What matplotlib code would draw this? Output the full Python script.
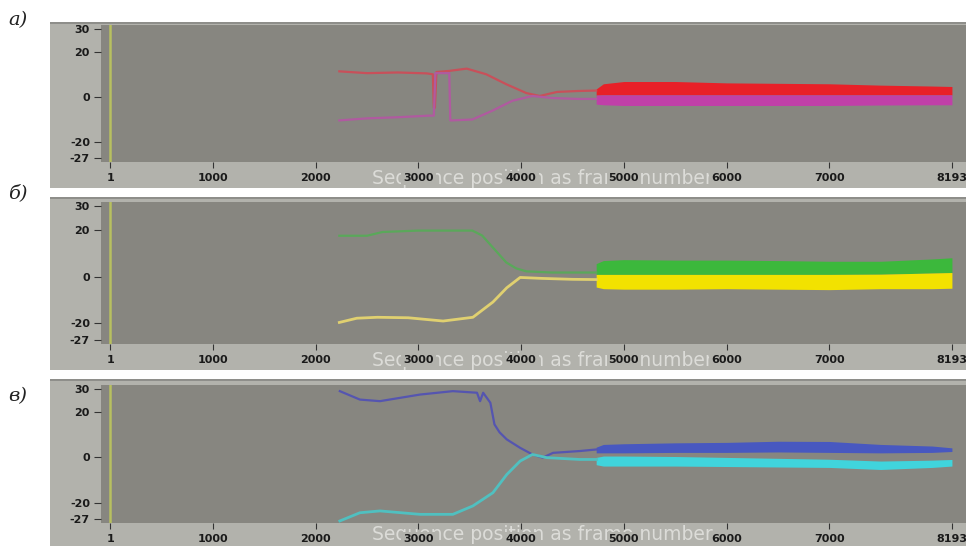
import matplotlib.pyplot as plt
from matplotlib.patches import Rectangle

W, H = 966, 546

# x positions of tick labels
x_ticks = [1, 1000, 2000, 3000, 4000, 5000, 6000, 7000, 8193]
x_ticklabels = ['1', '1000', '2000', '3000', '4000', '5000', '6000', '7000', '8193']
y_ticks = [30, 20, 0, -20, -27]

# panel a (red / magenta) - thin traces before the noisy region
a_red_x = [2230, 2500, 2800, 3080, 3140, 3150, 3160, 3175, 3300, 3470, 3660, 3855, 4050, 4180, 4350, 4550, 4730]
a_red_y = [11.3, 10.5, 10.8, 10.4, 10.0, -4.8, -4.8, 11.0, 11.5, 12.5, 10.0, 5.6, 1.7, 0.4, 2.2, 2.6, 2.8]
a_mag_x = [2230, 2500, 2800, 3100, 3150, 3165, 3300, 3310, 3330, 3525, 3720, 3915, 4110, 4300, 4550, 4730]
a_mag_y = [-10.4, -9.5, -9.0, -8.3, -8.3, 10.5, 10.5, -10.4, -10.4, -10.0, -6.1, -1.7, 0.4, -0.5, -0.9, -0.9]

# panel b (green / yellow)
b_grn_x = [2230, 2500, 2650, 3000, 3300, 3525, 3620, 3720, 3855, 3950, 4050, 4300, 4730]
b_grn_y = [17.4, 17.4, 19.0, 19.6, 19.6, 19.6, 17.5, 12.6, 6.0, 3.5, 2.2, 1.7, 1.7]
b_yel_x = [2230, 2400, 2600, 2900, 3240, 3530, 3725, 3860, 3990, 4200, 4500, 4730]
b_yel_y = [-19.6, -17.8, -17.4, -17.6, -19.0, -17.4, -10.9, -4.8, -0.4, -0.8, -1.2, -1.3]

# panel c (blue / cyan)
c_blu_x = [2235, 2430, 2625, 3015, 3335, 3570, 3600, 3630, 3700, 3740, 3790, 3860, 3990, 4110, 4210, 4310, 4570, 4735]
c_blu_y = [29.1, 25.4, 24.7, 27.6, 29.1, 28.4, 24.7, 28.4, 24.0, 14.5, 11.0, 7.9, 4.2, 1.3, -0.1, 2.0, 2.8, 3.5]
c_cyn_x = [2235, 2430, 2625, 3015, 3335, 3530, 3725, 3860, 3990, 4110, 4250, 4570, 4735]
c_cyn_y = [-27.9, -24.3, -23.5, -25.0, -25.0, -21.3, -15.5, -7.5, -1.6, 1.3, -0.1, -0.9, -0.9]

# noisy region envelopes (upper / lower edges of the bands)
band_x = [4730, 4800, 5000, 5500, 6000, 6500, 7000, 7500, 8000, 8193]
a_red_top = [3.5, 5.8, 6.8, 6.8, 6.2, 6.0, 5.8, 5.2, 4.8, 4.6]
a_mid = [0.8, 0.9, 0.9, 0.9, 0.9, 0.9, 0.9, 0.9, 0.9, 0.9]
a_mag_bot = [-3.2, -3.5, -3.8, -3.8, -3.8, -3.8, -3.8, -3.6, -3.5, -3.5]
b_grn_top = [5.5, 6.8, 7.2, 7.0, 7.0, 6.8, 6.5, 6.5, 7.5, 8.0]
b_mid = [0.9, 0.9, 0.9, 0.9, 0.9, 0.9, 0.9, 1.0, 1.5, 1.7]
b_yel_bot = [-4.5, -5.2, -5.4, -5.4, -5.2, -5.4, -5.6, -5.2, -5.2, -5.0]
c_blu_top = [4.5, 5.7, 6.0, 6.4, 6.6, 7.1, 7.0, 5.7, 5.0, 4.2]
c_blu_bot = [2.0, 2.0, 2.0, 2.2, 2.2, 2.4, 2.2, 2.0, 2.2, 2.6]
c_cyn_top = [0.0, 0.6, 0.6, 0.4, 0.0, -0.4, -0.8, -1.6, -1.2, -0.9]
c_cyn_bot = [-3.2, -3.8, -3.8, -3.8, -4.0, -4.2, -4.4, -5.3, -4.4, -3.8]

plot_bg = '#878680'
frame_bg = '#b2b2ac'


def fig_rect(x0, y0, x1, y1):
    return [x0 / W, 1 - y1 / H, (x1 - x0) / W, (y1 - y0) / H]


fig = plt.figure(figsize=(W / 100, H / 100), dpi=100)
fig.patch.set_facecolor('white')

panels = [
    # frame box, axes box, label, label y, offset of the faint title below the axes
    ((50, 22, 966, 188), (101, 25, 966, 162), 'а)', 20, 16),
    ((50, 197, 966, 370), (101, 202, 966, 344), 'б)', 193, 16),
    ((50, 379, 966, 546), (101, 385, 966, 523), 'в)', 396, 12),
]

axes = []
for frame, box, label, ly, off in panels:
    fx0, fy0, fx1, fy1 = frame
    r = fig_rect(fx0, fy0, fx1, fy1)
    fig.patches.append(Rectangle((r[0], r[1]), r[2], r[3], transform=fig.transFigure,
                                 facecolor=frame_bg, edgecolor='none', zorder=-3))
    # dark line on top of each frame
    fig.patches.append(Rectangle((r[0], r[1] + r[3] - 2 / H), r[2], 2 / H, transform=fig.transFigure,
                                 facecolor='#8e8e8a', edgecolor='none', zorder=-2))
    ax = fig.add_axes(fig_rect(*box))
    ax.set_facecolor(plot_bg)
    ax.set_xlim(-90, 8330)
    ax.set_ylim(-28.8, 31.8)
    for s in ax.spines.values():
        s.set_visible(False)
    ax.set_xticks(x_ticks)
    ax.set_xticklabels(x_ticklabels)
    ax.set_yticks(y_ticks)
    ax.set_yticklabels([str(v) for v in y_ticks])
    ax.tick_params(axis='x', direction='out', length=4, pad=4, color='#333333',
                   labelsize=8, labelcolor='#1a1a1a')
    ax.tick_params(axis='y', direction='out', length=5, pad=3, color='#333333',
                   labelsize=8, labelcolor='#1a1a1a')
    for t in ax.get_xticklabels() + ax.get_yticklabels():
        t.set_fontweight('bold')
    for t in ax.get_xticklabels():
        # labels sit on an opaque patch that hides the faint title behind them
        t.set_bbox(dict(facecolor=frame_bg, edgecolor='none', pad=1.5))
    ax.axvline(1, color='#b8c060', lw=1.8)
    # faint axis title, drawn before the axis so the tick labels cover it
    ax_h = box[3] - box[1]
    ax.text((542 - box[0]) / (box[2] - box[0]), -off / ax_h, 'Sequence position as frame number',
            transform=ax.transAxes, ha='center', va='center', fontsize=13.5,
            color='#dcdcd8', zorder=0.5, clip_on=False)
    fig.text(8 / W, 1 - ly / H, label, ha='left', va='center', fontsize=14,
             family='DejaVu Serif', style='italic', color='#222222')
    axes.append(ax)

ax_a, ax_b, ax_c = axes

# panel a
ax_a.plot(a_red_x, a_red_y, color='#c8505a', lw=1.6)
ax_a.plot(a_mag_x, a_mag_y, color='#b05aa0', lw=1.6)
ax_a.fill_between(band_x, a_mid, a_red_top, color='#e82028', lw=0)
ax_a.fill_between(band_x, a_mag_bot, a_mid, color='#c040a8', lw=0)

# panel b
ax_b.plot(b_grn_x, b_grn_y, color='#5aa85a', lw=1.6)
ax_b.plot(b_yel_x, b_yel_y, color='#e0d070', lw=2)
ax_b.fill_between(band_x, b_mid, b_grn_top, color='#3cb83c', lw=0)
ax_b.fill_between(band_x, b_yel_bot, b_mid, color='#f2e200', lw=0)

# panel c
ax_c.plot(c_blu_x, c_blu_y, color='#5555b0', lw=1.6)
ax_c.plot(c_cyn_x, c_cyn_y, color='#50c0c0', lw=2)
ax_c.fill_between(band_x, c_blu_bot, c_blu_top, color='#4858c0', lw=0)
ax_c.fill_between(band_x, c_cyn_bot, c_cyn_top, color='#40d4dc', lw=0)

fig.savefig('out.png', dpi=100)
